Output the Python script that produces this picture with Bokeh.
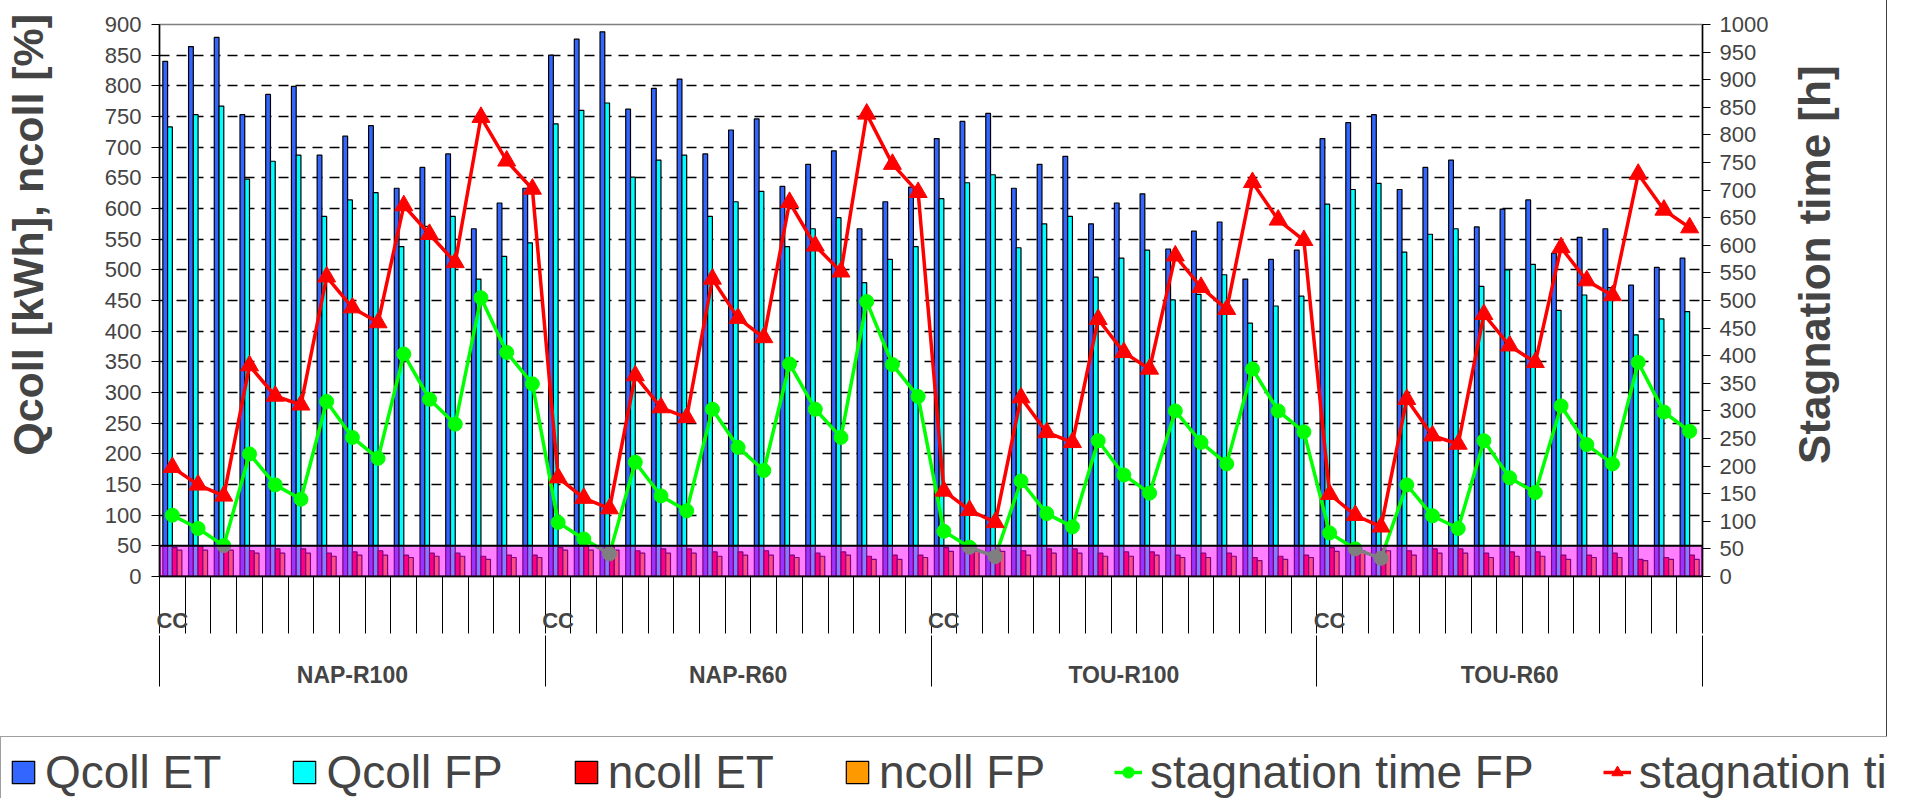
import math
import numpy as np
from bokeh.plotting import figure
from bokeh.layouts import column
from bokeh.models import (Range1d, LinearAxis, FixedTicker, BoxAnnotation, Legend,
                          LegendItem, CustomJSTickFormatter)
from bokeh.embed import file_html
from bokeh.resources import INLINE

# ---------------- data ----------------
groups = ["NAP-R100", "NAP-R60", "TOU-R100", "TOU-R60"]
group_first_label = "CC"
per_group = 15

qcoll_et = [840, 864, 879, 753, 786, 799, 687, 718, 735, 633, 667, 689, 567, 609, 633,
            850, 876, 888, 762, 796, 811, 689, 728, 746, 636, 672, 694, 567, 611, 635,
            714, 742, 755, 633, 672, 685, 575, 609, 624, 534, 563, 578, 485, 517, 532,
            714, 740, 753, 631, 667, 679, 570, 599, 614, 527, 553, 567, 475, 504, 519]

qcoll_fp = [733, 753, 767, 648, 677, 687, 587, 614, 626, 538, 571, 587, 485, 522, 544,
            738, 760, 772, 651, 679, 687, 587, 611, 628, 538, 567, 585, 479, 517, 538,
            616, 642, 655, 536, 575, 587, 488, 519, 532, 451, 460, 492, 413, 441, 457,
            607, 631, 641, 529, 558, 567, 473, 500, 509, 434, 459, 471, 394, 420, 432]

ncoll_et = [47, 49, 49, 42, 45, 45, 38, 40, 42, 35, 38, 38, 33, 35, 35,
            47, 49, 49, 42, 45, 45, 40, 40, 42, 35, 38, 40, 33, 35, 35,
            47, 45, 45, 42, 45, 45, 38, 40, 40, 35, 38, 38, 31, 33, 35,
            47, 45, 45, 42, 45, 45, 38, 40, 40, 35, 35, 38, 28, 31, 35]

ncoll_fp = [43, 43, 43, 38, 38, 38, 33, 35, 35, 31, 33, 33, 28, 31, 31,
            43, 43, 43, 38, 38, 38, 33, 35, 35, 31, 33, 35, 28, 28, 31,
            41, 41, 41, 35, 38, 38, 33, 33, 35, 31, 31, 33, 26, 28, 31,
            41, 42, 42, 35, 38, 38, 31, 33, 33, 28, 31, 31, 26, 28, 28]

stag_fp = [111, 87, 56, 222, 166, 140, 317, 252, 214, 403, 321, 276, 505, 406, 349,
           98, 68, 41, 207, 146, 119, 303, 234, 192, 385, 303, 252, 498, 384, 326,
           82, 53, 36, 173, 114, 90, 246, 184, 151, 300, 243, 204, 376, 300, 262,
           79, 50, 33, 166, 110, 87, 246, 179, 152, 309, 239, 204, 388, 298, 263]

stag_et = [198, 166, 146, 382, 327, 311, 543, 487, 460, 672, 620, 569, 832, 753, 702,
           179, 142, 123, 364, 306, 288, 539, 468, 433, 678, 599, 552, 838, 747, 696,
           155, 120, 98, 324, 261, 243, 466, 406, 376, 581, 524, 484, 714, 646, 609,
           149, 111, 90, 321, 255, 240, 475, 418, 388, 596, 536, 509, 729, 664, 632]

series_labels = ["Qcoll ET", "Qcoll FP", "ncoll ET", "ncoll FP",
                 "stagnation time FP", "stagnation time ET"]
left_title = "Qcoll [kWh], ncoll [%]"
right_title = "Stagnation time [h]"

left_max, right_max, tick_step = 900, 1000, 50
band_top = 50

# ---------------- styles ----------------
FONT = "Liberation Sans"
NB = "\u00a0"
C_QET, C_QFP, C_NET, C_NFP = "#3366ff", "#00ffff", "#ff0000", "#ff9900"
C_SFP, C_SET = "#00ff00", "#ff0000"
RIGHT_TITLE_ANCHOR = 204          # where the rotated right title starts (on the right scale)
n = len(qcoll_et)
xc = np.arange(n) + 0.5

W = 1887
H_MAIN = 736
H_LEG = 62
border_css = {"border-right": "1.5px solid #404040"}

p = figure(width=W, height=H_MAIN, output_backend="svg", toolbar_location=None,
           x_range=Range1d(0, n), y_range=Range1d(0, left_max),
           x_axis_location=None, y_axis_location="left",
           min_border_left=159, min_border_right=W - 1702, min_border_top=24,
           min_border_bottom=H_MAIN - 576)
p.extra_y_ranges = {"stag": Range1d(0, right_max)}
p.outline_line_color = "#808080"
p.outline_line_width = 1.5
p.background_fill_color = "white"
p.border_fill_color = "white"
try:
    p.frame_align = False
except Exception:
    pass
try:
    p.styles = border_css
except Exception:
    pass

# grid
p.xgrid.visible = False
p.ygrid.ticker = FixedTicker(ticks=list(range(2 * tick_step, left_max, tick_step)))
p.ygrid.grid_line_color = "black"
p.ygrid.grid_line_dash = "10 7"
p.ygrid.grid_line_width = 1.3

# left axis
ly = p.yaxis[0]
ly.ticker = FixedTicker(ticks=list(range(0, left_max + 1, tick_step)))
ly.axis_label = NB * 11 + left_title
ly.axis_label_text_font = FONT
ly.axis_label_text_font_size = "43px"
ly.axis_label_text_font_style = "bold"
ly.axis_label_standoff = 50
ly.major_label_text_font = FONT
ly.major_label_text_font_size = "22px"
ly.major_label_standoff = 10
ly.major_tick_out = 8
ly.major_tick_in = 0
ly.minor_tick_out = 0
ly.minor_tick_in = 0
ly.axis_line_color = "black"
ly.axis_line_width = 1.5

# right axis
ry = LinearAxis(y_range_name="stag",
                ticker=FixedTicker(ticks=list(range(0, right_max + 1, tick_step))))
ry.major_label_text_font = FONT
ry.major_label_text_font_size = "22px"
ry.major_label_standoff = 9
ry.major_tick_out = 8
ry.major_tick_in = 0
ry.minor_tick_out = 0
ry.minor_tick_in = 0
ry.axis_line_color = "black"
ry.axis_line_width = 1.5
p.add_layout(ry, "right")

# right axis title (rotated text, reading upwards)
ry2 = LinearAxis(y_range_name="stag", ticker=FixedTicker(ticks=[RIGHT_TITLE_ANCHOR]),
                 formatter=CustomJSTickFormatter(args=dict(t=right_title), code="return t"))
ry2.major_label_orientation = math.pi / 2
ry2.major_label_text_font = FONT
ry2.major_label_text_font_size = "44px"
ry2.major_label_text_font_style = "bold"
ry2.major_label_standoff = 43
ry2.axis_line_color = None
ry2.major_tick_line_color = None
ry2.minor_tick_line_color = None
ry2.major_tick_out = 0
ry2.major_tick_in = 0
p.add_layout(ry2, "right")

# bottom axes: category ticks with "CC", then group names
cc_ticks = [g * per_group + 0.5 for g in range(len(groups))]
ax_a = LinearAxis(ticker=FixedTicker(ticks=cc_ticks, minor_ticks=list(range(0, n + 1))),
                  formatter=CustomJSTickFormatter(args=dict(lab=group_first_label),
                                                  code="return lab"))
ax_a.axis_line_color = "black"
ax_a.axis_line_width = 1.5
ax_a.major_tick_out = 0
ax_a.major_tick_in = 0
ax_a.minor_tick_out = 57
ax_a.minor_tick_in = 0
ax_a.minor_tick_line_color = "black"
ax_a.major_label_standoff = -26
ax_a.major_label_text_font = FONT
ax_a.major_label_text_font_size = "22px"
ax_a.major_label_text_font_style = "bold"
p.add_layout(ax_a, "below")

grp_ticks = [g * per_group + per_group / 2 for g in range(len(groups))]
ax_b = LinearAxis(ticker=FixedTicker(ticks=grp_ticks,
                                     minor_ticks=[g * per_group for g in range(len(groups) + 1)]),
                  formatter=CustomJSTickFormatter(args=dict(names=groups, per=per_group),
                                                  code="return names[Math.floor(tick / per)]"))
ax_b.axis_line_color = None
ax_b.major_tick_out = 0
ax_b.major_tick_in = 0
ax_b.minor_tick_out = 51
ax_b.minor_tick_in = 0
ax_b.minor_tick_line_color = "black"
ax_b.major_label_standoff = -25
ax_b.major_label_text_font = FONT
ax_b.major_label_text_font_size = "23px"
ax_b.major_label_text_font_style = "bold"
p.add_layout(ax_b, "below")

# bars
bw = 0.185
offs = [-1.5 * bw, -0.5 * bw, 0.5 * bw, 1.5 * bw]
bar_style = dict(width=bw, line_color="black", line_width=1.2)
p.vbar(x=xc + offs[0], top=qcoll_et, fill_color=C_QET, **bar_style)
p.vbar(x=xc + offs[1], top=qcoll_fp, fill_color=C_QFP, **bar_style)
p.vbar(x=xc + offs[2], top=ncoll_et, fill_color=C_NET, **bar_style)
p.vbar(x=xc + offs[3], top=ncoll_fp, fill_color=C_NFP, **bar_style)

# lines
p.line(xc, stag_fp, y_range_name="stag", line_color=C_SFP, line_width=3.5)
p.scatter(xc, stag_fp, y_range_name="stag", marker="circle", size=14,
          fill_color=C_SFP, line_color=C_SFP)
p.line(xc, stag_et, y_range_name="stag", line_color=C_SET, line_width=3.5)
p.scatter(xc, stag_et, y_range_name="stag", marker="triangle", size=18,
          fill_color=C_SET, line_color=C_SET)

# translucent band
band = BoxAnnotation(bottom=0, top=band_top, fill_color="#ff00ff", fill_alpha=0.5,
                     line_color="black", line_width=2, line_alpha=1.0)
p.add_layout(band)

# ---------------- legend strip ----------------
lf = figure(width=W, height=H_LEG, output_backend="svg", toolbar_location=None,
            x_range=Range1d(0, 1), y_range=Range1d(0, 1),
            x_axis_location=None, y_axis_location=None,
            min_border_left=0, min_border_right=0, min_border_top=0, min_border_bottom=0)
lf.outline_line_color = None
lf.xgrid.visible = False
lf.ygrid.visible = False
lf.background_fill_color = "white"
lf.border_fill_color = "white"
try:
    lf.frame_align = False
except Exception:
    pass
try:
    lf.styles = border_css
except Exception:
    pass

nan = [float("nan")]
g1 = lf.vbar(x=nan, top=nan, width=0.1, fill_color=C_QET, line_color="black", line_width=1.2)
g2 = lf.vbar(x=nan, top=nan, width=0.1, fill_color=C_QFP, line_color="black", line_width=1.2)
g3 = lf.vbar(x=nan, top=nan, width=0.1, fill_color=C_NET, line_color="black", line_width=1.2)
g4 = lf.vbar(x=nan, top=nan, width=0.1, fill_color=C_NFP, line_color="black", line_width=1.2)
g5l = lf.line(x=nan, y=nan, line_color=C_SFP, line_width=3.5)
g5m = lf.scatter(x=nan, y=nan, marker="circle", size=14, fill_color=C_SFP, line_color=C_SFP)
g6l = lf.line(x=nan, y=nan, line_color=C_SET, line_width=3.5)
g6m = lf.scatter(x=nan, y=nan, marker="triangle", size=18, fill_color=C_SET, line_color=C_SET)

legend = Legend(items=[
    LegendItem(label=series_labels[0], renderers=[g1]),
    LegendItem(label=series_labels[1], renderers=[g2]),
    LegendItem(label=series_labels[2], renderers=[g3]),
    LegendItem(label=series_labels[3], renderers=[g4]),
    LegendItem(label=series_labels[4], renderers=[g5l, g5m]),
    LegendItem(label=series_labels[5], renderers=[g6l, g6m]),
], orientation="horizontal", location="top_left")
legend.label_text_font = FONT
legend.label_text_font_size = "46px"
legend.glyph_width = 28
legend.glyph_height = 28
legend.label_standoff = 8
legend.spacing = 69
legend.padding = 8
legend.margin = 0
legend.border_line_color = "#404040"
legend.border_line_width = 1.5
legend.background_fill_alpha = 1.0
lf.add_layout(legend)

layout = column(p, lf, spacing=0)
open("out.html", "w").write(file_html(layout, INLINE))
